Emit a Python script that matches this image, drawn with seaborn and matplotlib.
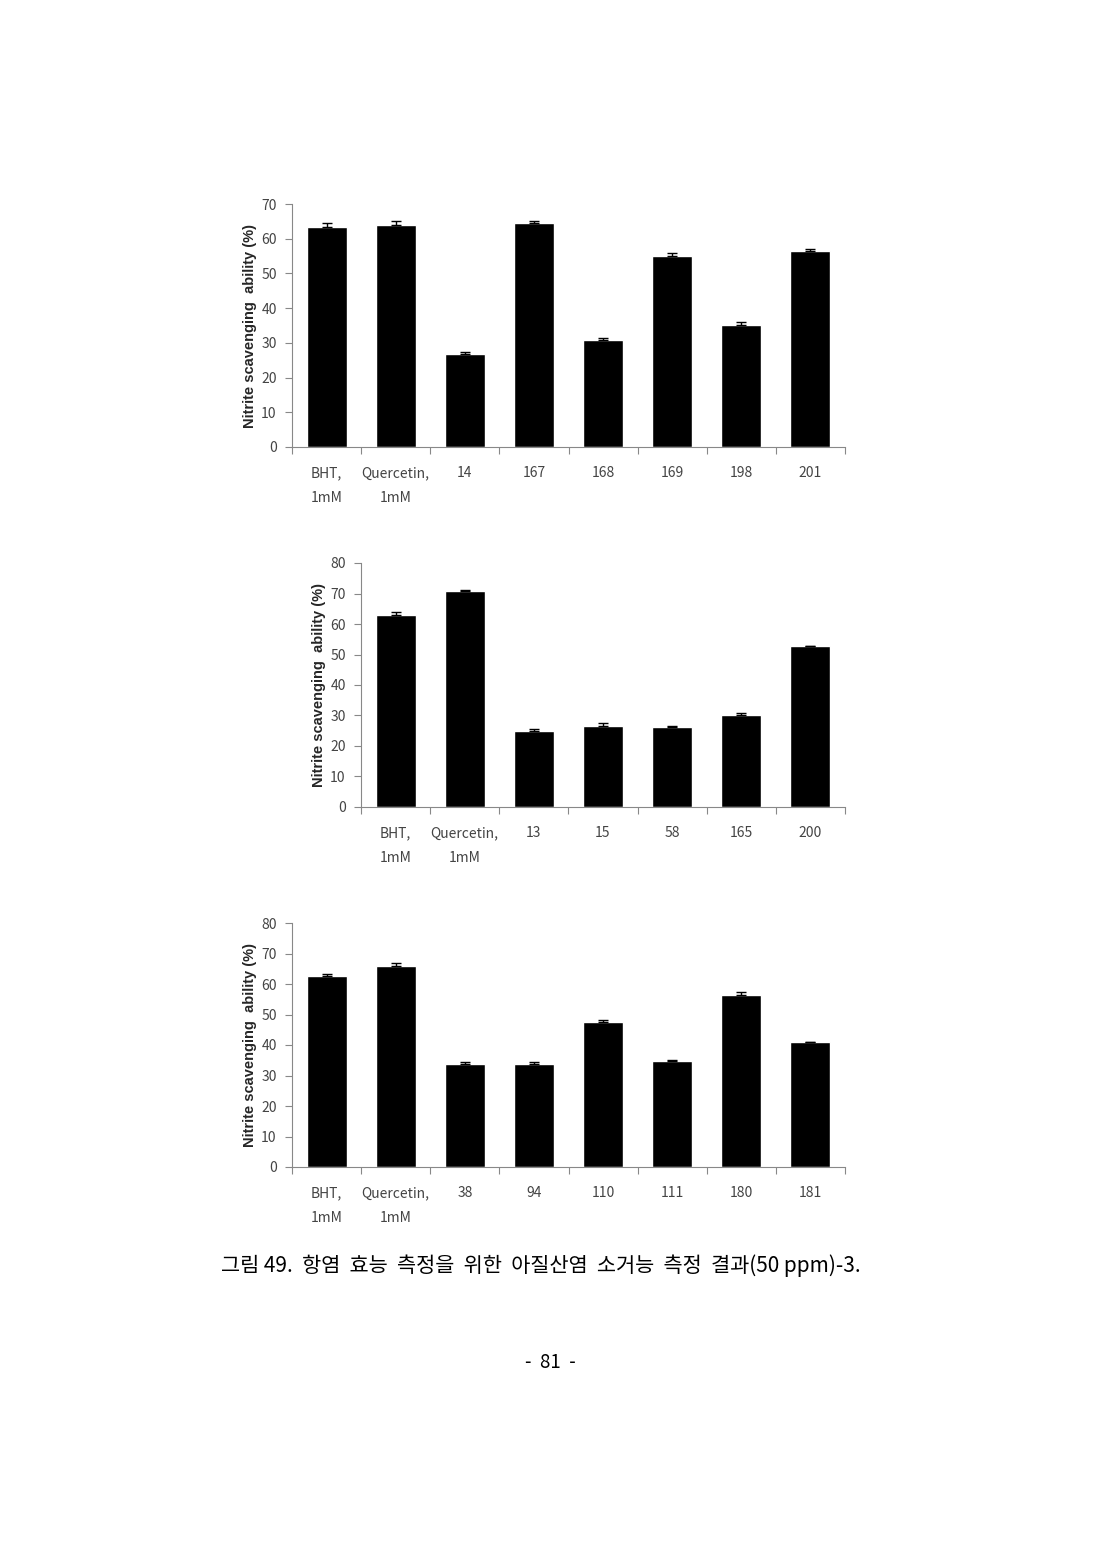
import numpy as np
import pandas as pd
import matplotlib
matplotlib.use("Agg")
import matplotlib.pyplot as plt
import seaborn as sns


# top panel
labels_a = ["BHT,\n1mM", "Quercetin,\n1mM", "14", "167", "168", "169", "198", "201"]
values_a = [63.5, 63.9, 26.9, 64.4, 30.7, 54.9, 35.1, 56.5]
errors_a = [0.9, 1.1, 0.5, 0.6, 0.6, 1.0, 0.9, 0.6]

# middle panel
labels_b = ["BHT,\n1mM", "Quercetin,\n1mM", "13", "15", "58", "165", "200"]
values_b = [62.8, 70.7, 25.0, 26.7, 26.3, 30.0, 52.7]
errors_b = [1.1, 0.3, 0.5, 0.7, 0.3, 0.7, 0.2]

# bottom panel
labels_c = ["BHT,\n1mM", "Quercetin,\n1mM", "38", "94", "110", "111", "180", "181"]
values_c = [62.7, 65.9, 33.7, 33.7, 47.4, 34.8, 56.5, 40.9]
errors_c = [0.7, 1.1, 0.6, 0.6, 0.8, 0.2, 0.8, 0.2]

ylabel = "Nitrite scavenging  ability (%)"
caption = "그림 49.  항염  효능  측정을  위한  아질산염  소거능  측정  결과(50 ppm)-3."
page_no = "-  81  -"

sns.set_theme(style="white")
plt.rcParams['font.family'] = ['Noto Sans CJK KR', 'DejaVu Sans']

W, H = 1100, 1554
fig = plt.figure(figsize=(W / 100, H / 100), dpi=100)


def panel(rect_px, labels, values, errors, ymax):
    x0, y_top, x1, y_bot = rect_px
    ax = fig.add_axes([x0 / W, 1 - y_bot / H, (x1 - x0) / W, (y_bot - y_top) / H])
    df = pd.DataFrame({"sample": labels, "value": values})
    sns.barplot(data=df, x="sample", y="value", color="black", saturation=1,
                width=0.58, errorbar=None, ax=ax)
    n = len(values)
    ax.errorbar(np.arange(n), values, yerr=[np.zeros(n), errors], fmt="none",
                ecolor="black", elinewidth=1, capsize=3.5, capthick=1)
    ax.set_xlim(-0.5, n - 0.5)
    ax.set_ylim(0, ymax)
    ax.set_yticks(np.arange(0, ymax + 1, 10))
    ax.set_xticks(np.arange(n + 1) - 0.5, minor=True)
    ax.tick_params(axis="x", which="major", length=0, pad=14,
                   labelsize=10, labelcolor="#444444")
    ax.tick_params(axis="x", which="minor", bottom=True, length=5,
                   color="#888888", width=0.8)
    ax.tick_params(axis="y", left=True, length=5, color="#888888", width=0.8,
                   pad=6, labelsize=10, labelcolor="#444444")
    for t in ax.get_xticklabels():
        t.set_linespacing(2.0)
    for side in ["top", "right"]:
        ax.spines[side].set_visible(False)
    for side in ["left", "bottom"]:
        ax.spines[side].set_color("#888888")
        ax.spines[side].set_linewidth(0.8)
    ax.set_xlabel("")
    ax.set_ylabel(ylabel, fontsize=10.5, fontweight="bold",
                  family=["Liberation Sans", "DejaVu Sans"], labelpad=3)
    ax.set_facecolor("white")
    return ax


panel((292, 204, 845, 447), labels_a, values_a, errors_a, 70)
panel((361, 563, 845, 807), labels_b, values_b, errors_b, 80)
panel((292, 923, 845, 1167), labels_c, values_c, errors_c, 80)

fig.text(541 / W, 1 - 1266 / H, caption, ha="center", va="center",
         fontsize=15, color="black")
fig.text(550 / W, 1 - 1362 / H, page_no, ha="center", va="center",
         fontsize=13.5, color="black")

fig.savefig("out.png", dpi=100, facecolor="white")
